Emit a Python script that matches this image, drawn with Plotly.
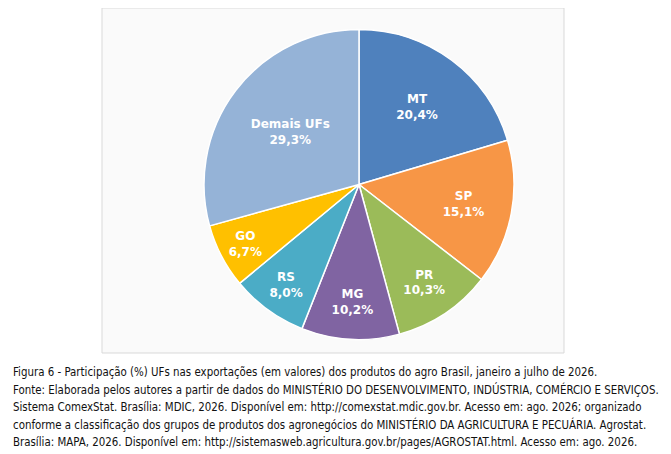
import plotly.graph_objects as go

labels = ["MT", "SP", "PR", "MG", "RS", "GO", "Demais UFs"]
values = [20.4, 15.1, 10.3, 10.2, 8.0, 6.7, 29.3]
text_labels = ["20,4%", "15,1%", "10,3%", "10,2%", "8,0%", "6,7%", "29,3%"]
colors = ["#4F81BD", "#F79646", "#9BBB59", "#8064A2", "#4BACC6", "#FFC000", "#95B3D7"]

caption = [
    "Figura 6 - Participação (%) UFs nas exportações (em valores) dos produtos do agro Brasil, janeiro a julho de 2026.",
    "Fonte: Elaborada pelos autores a partir de dados do MINISTÉRIO DO DESENVOLVIMENTO, INDÚSTRIA, COMÉRCIO E SERVIÇOS.",
    "Sistema ComexStat. Brasília: MDIC, 2026. Disponível em: http://comexstat.mdic.gov.br. Acesso em: ago. 2026; organizado",
    "conforme a classificação dos grupos de produtos dos agronegócios do MINISTÉRIO DA AGRICULTURA E PECUÁRIA. Agrostat.",
    "Brasília: MAPA, 2026. Disponível em: http://sistemasweb.agricultura.gov.br/pages/AGROSTAT.html. Acesso em: ago. 2026.",
]

fig = go.Figure(go.Pie(
    labels=labels, values=values, sort=False, direction="clockwise", rotation=0,
    text=[f"<b>{l}<br>{t}</b>" for l, t in zip(labels, text_labels)],
    textinfo="text", textposition="inside", insidetextorientation="horizontal",
    textfont=dict(color="white", size=12, family="DejaVu Sans, Verdana, sans-serif"),
    marker=dict(colors=colors, line=dict(color="white", width=1.5)),
    domain=dict(x=[196/671, 506/671], y=[1-335/454, 1-18/454]),
    hoverinfo="skip",
))

fig.add_shape(type="rect", xref="paper", yref="paper",
              x0=94/671, x1=556/671, y0=1-345/454, y1=1.0,
              line=dict(color="#D9D9D9", width=1), fillcolor="#FAFAFA", layer="below")

for i, line in enumerate(caption):
    fig.add_annotation(xref="paper", yref="paper", x=3/671, y=1-(364+i*17.5)/454,
                       text=line, showarrow=False, xanchor="left", yanchor="middle",
                       font=dict(size=11.4, color="#111111",
                                 family="DejaVu Sans Condensed, Liberation Sans Narrow, sans-serif"))

fig.update_layout(width=671, height=454, margin=dict(l=0, r=0, t=0, b=0),
                  showlegend=False, paper_bgcolor="white")
fig.write_html("out.html")
